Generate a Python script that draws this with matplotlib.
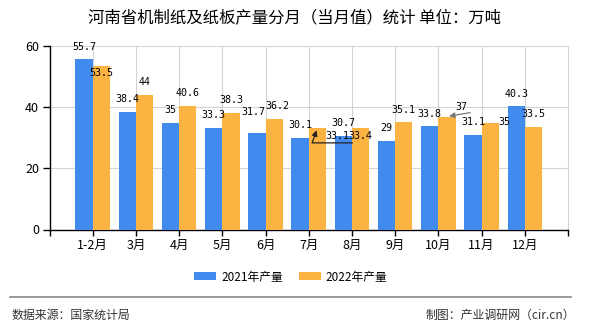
import matplotlib
matplotlib.use("Agg")
import matplotlib.pyplot as plt
from matplotlib.patches import Patch
from matplotlib.lines import Line2D
import numpy as np

plt.rcParams['font.family'] = ['Noto Sans CJK SC', 'DejaVu Sans']

categories = ["1-2月", "3月", "4月", "5月", "6月", "7月", "8月", "9月", "10月", "11月", "12月"]
values_2021 = [55.7, 38.4, 35, 33.3, 31.7, 30.1, 30.7, 29, 33.8, 31.1, 40.3]
values_2022 = [53.5, 44, 40.6, 38.3, 36.2, 33.1, 33.4, 35.1, 37, 35, 33.5]
series_names = ["2021年产量", "2022年产量"]
yticks = [0, 20, 40, 60]

title = "河南省机制纸及纸板产量分月（当月值）统计 单位：万吨"
source_left = "数据来源：国家统计局"
source_right = "制图：产业调研网（cir.cn）"

BLUE = "#428BEE"
ORANGE = "#FBB442"
GRID = "#d4d4d4"

W, H = 590, 330
fig = plt.figure(figsize=(W / 100, H / 100), dpi=100)
ax = fig.add_axes([49.5 / W, 1 - 229.5 / H, (568 - 49.5) / W, (229.5 - 46.3) / H])

x = np.arange(len(categories))
bw = 0.4
ax.bar(x - bw / 2, values_2021, bw, color=BLUE, zorder=3)
ax.bar(x + bw / 2, values_2022, bw, color=ORANGE, zorder=3)

ax.set_xlim(-1, len(categories))
ax.set_ylim(0, 60)
ax.set_yticks(yticks)
ax.set_xticks(x)
ax.set_xticklabels(categories)
ax.set_xticks([-1, len(categories)], minor=True)
ax.tick_params(axis='x', which='both', length=4, width=1, color='black', pad=2.5, labelsize=9)
ax.tick_params(axis='y', length=5, width=1, color='black', pad=2.5, labelsize=9)
ax.grid(True, color=GRID, linewidth=0.8, zorder=0)
ax.set_axisbelow(True)
for s in ['left', 'bottom']:
    ax.spines[s].set_color('black')
    ax.spines[s].set_linewidth(1)
ax.spines['top'].set_visible(False)
ax.spines['right'].set_color(GRID)
ax.spines['right'].set_linewidth(0.8)

# value labels (offsets in points; default centred above bar top)
label_font = dict(family=['DejaVu Sans Mono'], fontsize=7.2, color='black')
default_off = (0, 9.2)
special = {
    (1, 0): (0, -5.0),
    (0, 4): (-2.5, 15.0),
    (1, 4): (2.5, 9.2),
    (1, 6): (0, -6.0),
    (1, 9): (10.4, 0.5),
}
# labels displaced to the side with a leader arrow: (text offset, arrow start offset, style, colour)
arrows = {
    (1, 5): ((14.4, -5.4), (25.2, -10.4), 'angle,angleA=0,angleB=70', '#222222'),
    (1, 8): ((10.0, 7.0), (16.6, 2.8), 'arc3,rad=0', '#777777'),
}
for si, (vals, off_sign) in enumerate([(values_2021, -1), (values_2022, 1)]):
    for i, v in enumerate(vals):
        xp = i + off_sign * bw / 2
        key = (si, i)
        txt = f"{v:g}"
        if key in arrows:
            off, start, cs, col = arrows[key]
            ax.annotate(txt, xy=(xp, v), xytext=off, textcoords='offset points',
                        ha='center', va='center', zorder=5, **label_font)
            ax.annotate("", xy=(xp, v), xytext=start, textcoords='offset points', zorder=5,
                        arrowprops=dict(arrowstyle='-|>', color=col, lw=0.9,
                                        connectionstyle=cs, shrinkA=0, shrinkB=1.5,
                                        mutation_scale=8))
        else:
            off = special.get(key, default_off)
            ax.annotate(txt, xy=(xp, v), xytext=off, textcoords='offset points',
                        ha='center', va='center', zorder=5, **label_font)

# title
fig.text(294 / W, 1 - 18 / H, title, ha='center', va='center', fontsize=11.8, color='black')

# legend
handles = [Patch(facecolor=BLUE, edgecolor='none', label=series_names[0]),
           Patch(facecolor=ORANGE, edgecolor='none', label=series_names[1])]
fig.legend(handles=handles, loc='center', bbox_to_anchor=(291 / W, 1 - 277 / H), ncol=2,
           frameon=False, fontsize=8.5, handlelength=1.86, handleheight=0.68,
           handletextpad=0.42, columnspacing=1.36, borderpad=0, borderaxespad=0)

# footer
fig.add_artist(Line2D([10 / W, 571 / W], [1 - 297 / H, 1 - 297 / H], color='#888888', lw=1.2))
fig.text(12 / W, 1 - 315 / H, source_left, ha='left', va='center', fontsize=8.6, color='#333333')
fig.text(575 / W, 1 - 315 / H, source_right, ha='right', va='center', fontsize=8.6, color='#333333')

fig.savefig("out.png", dpi=100)
